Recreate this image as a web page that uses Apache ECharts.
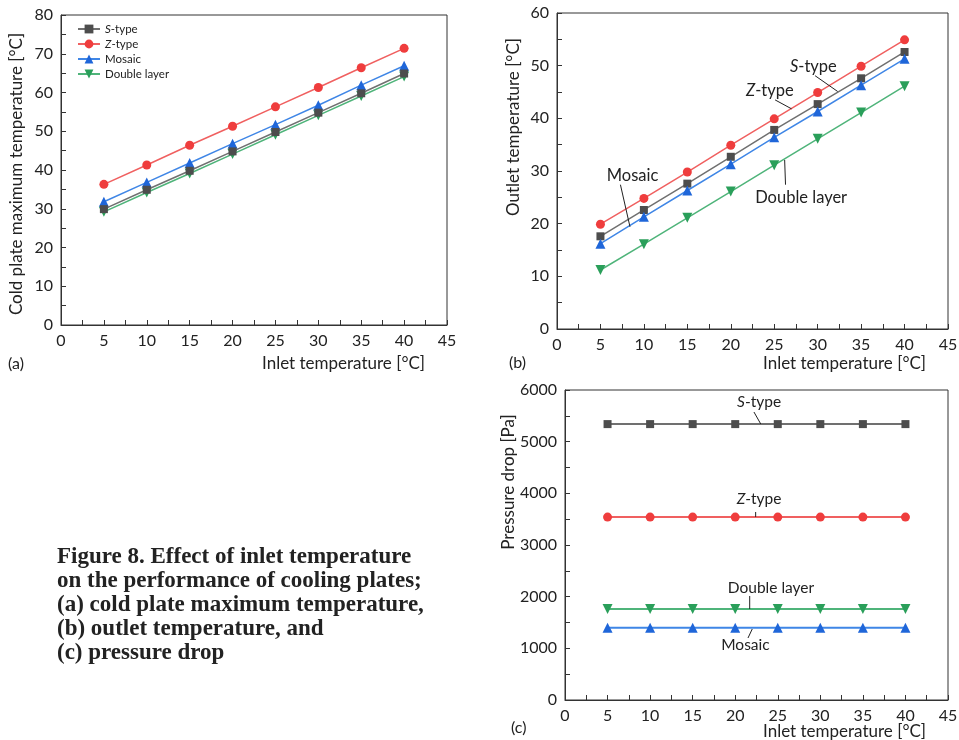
<!DOCTYPE html>
<html>
<head>
<meta charset="utf-8">
<script src="https://cdn.jsdelivr.net/npm/echarts@6/dist/echarts.min.js"></script>
<style>
html,body{margin:0;padding:0;background:#fff;}
#main{width:959px;height:740px;}
</style>
</head>
<body>
<div id="main"></div>
<script>
// ---- data ----
var inletTemps = [5, 10, 15, 20, 25, 30, 35, 40];
var seriesNames = ['S-type', 'Z-type', 'Mosaic', 'Double layer'];

// (a) cold plate maximum temperature [°C]
var maxTempS = [29.9, 34.9, 39.8, 44.8, 49.8, 54.8, 59.8, 64.9];
var maxTempZ = [36.3, 41.3, 46.4, 51.3, 56.3, 61.3, 66.4, 71.4];
var maxTempMosaic = [31.8, 36.8, 41.8, 46.8, 51.7, 56.7, 61.9, 66.9];
var maxTempDouble = [29.2, 34.2, 39.1, 44.1, 49.1, 54.1, 59.1, 64.1];

// (b) outlet temperature [°C]
var outletS = [17.6, 22.6, 27.6, 32.7, 37.8, 42.7, 47.6, 52.6];
var outletZ = [19.9, 24.8, 29.8, 34.9, 39.9, 44.9, 49.9, 54.9];
var outletMosaic = [16.2, 21.3, 26.3, 31.3, 36.4, 41.3, 46.3, 51.3];
var outletDouble = [11.2, 16.1, 21.1, 26.1, 31.1, 36.1, 41.1, 46.1];

// (c) pressure drop [Pa]
var dpS = [5340, 5340, 5340, 5340, 5340, 5340, 5340, 5340];
var dpZ = [3540, 3540, 3540, 3540, 3540, 3540, 3540, 3540];
var dpMosaic = [1400, 1400, 1400, 1400, 1400, 1400, 1400, 1400];
var dpDouble = [1760, 1760, 1760, 1760, 1760, 1760, 1760, 1760];

var xTickStep = 5;
var yAxisA = {min: 0, max: 80, interval: 10};
var yAxisB = {min: 0, max: 60, interval: 10};
var yAxisC = {min: 0, max: 6000, interval: 1000};

var xAxisName = 'Inlet temperature [°C]';
var yNameA = 'Cold plate maximum temperature [°C]';
var yNameB = 'Outlet temperature [°C]';
var yNameC = 'Pressure drop [Pa]';
var panelLabels = ['(a)', '(b)', '(c)'];
var captionLines = [
  'Figure 8. Effect of inlet temperature',
  'on the performance of cooling plates;',
  '(a) cold plate maximum temperature,',
  '(b) outlet temperature, and',
  '(c) pressure drop'
];
// annotation positions in data coordinates: [label, label x, label y, leader x1, y1, x2, y2]
var annB = [
  ['S-type', 29.5, 49.9, 29.7, 48.1, 32.3, 45.1],
  ['Z-type', 24.5, 45.3, 25.1, 43.5, 27.0, 41.8],
  ['Mosaic', 8.7, 29.1, 7.3, 27.4, 8.4, 19.4],
  ['Double layer', 28.1, 24.9, 26.2, 32.1, 26.3, 27.4]
];
var annC = [
  ['S-type', 22.8, 5760, 22.2, 5574, 23.0, 5342],
  ['Z-type', 22.8, 3900, 22.4, 3639, 22.4, 3542],
  ['Double layer', 24.2, 2170, 21.7, 2013, 21.7, 1761],
  ['Mosaic', 21.2, 1060, 22.0, 1374, 21.5, 1200]
];

// ---- styles ----
var FONT = 'Lato, "Open Sans", sans-serif';
var markerColors = ['#4d4d4d', '#ef3d3d', '#1f66d9', '#2a9f5a'];
var lineColors = ['#707070', '#f06060', '#3f86e6', '#4fb47a'];
var symbols = ['rect', 'circle', 'triangle', 'triangle'];
var symbolRot = [0, 0, 0, 180];
var symbolSizes = [8, 9, 10, 10];

function fmtName(n) {
  if (n === 'S-type') return '{i|S}-type';
  if (n === 'Z-type') return '{i|Z}-type';
  return n;
}

var grids = [
  {left: 61, top: 15, width: 386, height: 310},
  {left: 557, top: 13, width: 391, height: 316},
  {left: 565, top: 390, width: 383, height: 310}
];

function xAxis(i, namePadTop) {
  return {
    gridIndex: i, type: 'value', min: 0, max: 45, interval: xTickStep,
    name: xAxisName, nameLocation: 'end', nameGap: 0, nameMoveOverlap: false,
    nameTextStyle: {fontFamily: FONT, fontSize: 17, color: '#222', align: 'right', verticalAlign: 'top', padding: [namePadTop, 22, 0, 0]},
    axisLine: {show: true, lineStyle: {color: '#333', width: 1}},
    axisTick: {show: true, inside: true, length: 5, lineStyle: {color: '#333'}},
    minorTick: {show: true, splitNumber: 2, length: 5, lineStyle: {color: '#333'}},
    axisLabel: {fontFamily: FONT, fontSize: 16, color: '#222', margin: 8, showMinLabel: true, showMaxLabel: true,
      formatter: function (v) { return String(v); }},
    splitLine: {show: false}
  };
}
function yAxis(i, cfg, name, shiftUp, gap) {
  return {
    gridIndex: i, type: 'value', min: cfg.min, max: cfg.max, interval: cfg.interval,
    name: name, nameLocation: 'middle', nameGap: gap, nameMoveOverlap: false,
    nameTextStyle: {fontFamily: FONT, fontSize: 17, color: '#222',
      padding: shiftUp >= 0 ? [0, 0, 0, 2 * shiftUp] : [0, -2 * shiftUp, 0, 0]},
    axisLine: {show: true, lineStyle: {color: '#333', width: 1}},
    axisTick: {show: true, inside: true, length: 5, lineStyle: {color: '#333'}},
    minorTick: {show: true, splitNumber: 2, length: 5, lineStyle: {color: '#333'}},
    axisLabel: {fontFamily: FONT, fontSize: 16, color: '#222', margin: 8,
      formatter: function (v) { return String(v); }},
    splitLine: {show: false}
  };
}

function mkSeries(gi, k, values, lw) {
  return {
    name: seriesNames[k], type: 'line', xAxisIndex: gi, yAxisIndex: gi,
    data: inletTemps.map(function (x, j) { return [x, values[j]]; }),
    symbol: symbols[k], symbolRotate: symbolRot[k], symbolSize: symbolSizes[k],
    showSymbol: true, animation: false,
    itemStyle: {color: markerColors[k]},
    lineStyle: {color: lineColors[k], width: lw},
    z: 3 + (gi === 0 ? 3 - k : k)
  };
}

var series = [];
[maxTempS, maxTempZ, maxTempMosaic, maxTempDouble].forEach(function (v, k) { series.push(mkSeries(0, k, v, 1.5)); });
[outletS, outletZ, outletMosaic, outletDouble].forEach(function (v, k) { series.push(mkSeries(1, k, v, 1.5)); });
[dpS, dpZ, dpMosaic, dpDouble].forEach(function (v, k) { series.push(mkSeries(2, k, v, 2)); });

var chart = echarts.init(document.getElementById('main'), null, {renderer: 'canvas'});
var option = {
  animation: false,
  backgroundColor: '#fff',
  grid: grids.map(function (g) {
    return Object.assign({show: true, borderColor: '#333', borderWidth: 1, backgroundColor: 'transparent',
      containLabel: false, outerBoundsMode: 'none'}, g);
  }),
  xAxis: [xAxis(0, 30), xAxis(1, 26), xAxis(2, 23)],
  yAxis: [yAxis(0, yAxisA, yNameA, -4, 36), yAxis(1, yAxisB, yNameB, 44, 35), yAxis(2, yAxisC, yNameC, 63, 48)],
  legend: {
    data: seriesNames.map(function (n) { return {name: n}; }),
    orient: 'vertical', left: 72, top: 18, itemGap: 3, itemWidth: 22, itemHeight: 11,
    formatter: fmtName,
    textStyle: {fontFamily: FONT, fontSize: 11.5, color: '#222', rich: {i: {fontStyle: 'italic', fontFamily: FONT, fontSize: 11.5, color: '#222'}}},
    selectedMode: false
  },
  series: series
};
chart.setOption(option);

// overlay texts: panel labels, caption, annotations
var graphics = [];
var panelPos = [[8, 356], [509, 355], [511, 720]];
panelLabels.forEach(function (t, i) {
  graphics.push({type: 'text', left: panelPos[i][0], top: panelPos[i][1],
    style: {text: t, font: '16px ' + FONT, fill: '#222'}});
});
graphics.push({type: 'text', left: 57, top: 545,
  style: {text: captionLines.join('\n'), font: 'bold 23px "Liberation Serif", "DejaVu Serif", serif', fill: '#222', lineHeight: 24}});

function addAnn(list, gi, fs) {
  list.forEach(function (a) {
    var lp = chart.convertToPixel({gridIndex: gi}, [a[1], a[2]]);
    var p1 = chart.convertToPixel({gridIndex: gi}, [a[3], a[4]]);
    var p2 = chart.convertToPixel({gridIndex: gi}, [a[5], a[6]]);
    graphics.push({type: 'text', x: lp[0], y: lp[1], z: 10,
      style: {text: fmtName(a[0]), font: fs + 'px ' + FONT, fill: '#222', align: 'center', verticalAlign: 'middle',
        rich: {i: {fontStyle: 'italic', fontSize: fs, fontFamily: FONT, fill: '#222'}}}});
    graphics.push({type: 'line', z: 10, shape: {x1: p1[0], y1: p1[1], x2: p2[0], y2: p2[1]},
      style: {stroke: '#222', lineWidth: 1}});
  });
}
addAnn(annB, 1, 16.5);
addAnn(annC, 2, 15.5);
chart.setOption({graphic: graphics});
</script>
</body>
</html>
